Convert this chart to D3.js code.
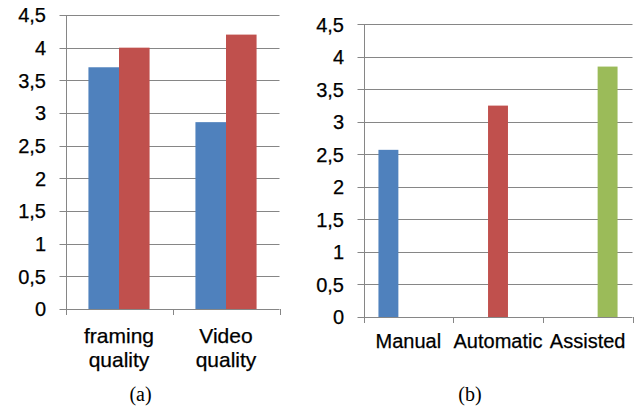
<!DOCTYPE html>
<html>
<head>
<meta charset="utf-8">
<script src="https://cdn.jsdelivr.net/npm/d3@7"></script>
<style>
  html, body { margin: 0; padding: 0; background: #fff; }
  svg { display: block; }
  text { font-family: "Liberation Sans", Arial, sans-serif; fill: #000; stroke: #000; stroke-width: 0.25px; }
  .caption { font-family: "Liberation Serif", "Times New Roman", serif; stroke: none; }
</style>
</head>
<body>
<svg id="chart" width="644" height="411"></svg>
<script>
// Panel (a): ratings per criterion, two conditions
const catsA = [["framing", "quality"], ["Video", "quality"]];
const seriesA = ["condition1", "condition2"];
const valuesA = [
  [3.7, 4.0],   // framing quality
  [2.86, 4.2]   // Video quality
];

// Panel (b): overall rating per mode
const catsB = ["Manual", "Automatic", "Assisted"];
const seriesB = ["Manual", "Automatic", "Assisted"];
const valuesB = [2.57, 3.25, 3.85];

const yTicks = [0, 0.5, 1, 1.5, 2, 2.5, 3, 3.5, 4, 4.5];
const colors = ["#4F81BD", "#C0504D", "#9BBB59"];
const gridColor = "#868686";
const fmt = v => String(v).replace(".", ",");

const svg = d3.select("#chart");

function drawPanel(cfg) {
  const g = svg.append("g");
  const y = d3.scaleLinear().domain([0, 4.5]).range([cfg.y0, cfg.y1]);
  const x = d3.scaleBand().domain(d3.range(cfg.nCats)).range([cfg.x0, cfg.x1]).padding(0);
  const bw = x.bandwidth();
  // Excel-style cluster: gap width 150% of a bar
  const barW = bw / (cfg.nSeries + 1.5);
  const inner = d3.scaleBand().domain(d3.range(cfg.nSeries))
    .range([barW * 0.75, bw - barW * 0.75]).padding(0);

  // horizontal gridlines with outward tick marks
  g.append("g").selectAll("line").data(yTicks).join("line")
    .attr("x1", cfg.x0 - 6).attr("x2", cfg.x1)
    .attr("y1", d => Math.round(y(d)) + 0.5).attr("y2", d => Math.round(y(d)) + 0.5)
    .attr("stroke", gridColor).attr("stroke-width", 1);

  // bars
  g.append("g").selectAll("rect").data(cfg.bars).join("rect")
    .attr("x", d => x(d.cat) + inner(d.s))
    .attr("width", inner.bandwidth())
    .attr("y", d => y(d.v))
    .attr("height", d => y(0) - y(d.v))
    .attr("fill", d => colors[d.s]);

  // vertical axis line
  g.append("line")
    .attr("x1", Math.round(cfg.x0) + 0.5).attr("x2", Math.round(cfg.x0) + 0.5)
    .attr("y1", y(4.5)).attr("y2", y(0) + 6)
    .attr("stroke", gridColor);

  // category boundary ticks under the baseline
  const bounds = d3.range(cfg.nCats + 1).map(i => i < cfg.nCats ? x(i) : cfg.x1);
  g.append("g").selectAll("line").data(bounds).join("line")
    .attr("x1", d => Math.round(d) + 0.5).attr("x2", d => Math.round(d) + 0.5)
    .attr("y1", y(0)).attr("y2", y(0) + 6)
    .attr("stroke", gridColor);

  // y tick labels
  g.append("g").selectAll("text").data(yTicks).join("text")
    .attr("x", cfg.labelX).attr("y", d => y(d))
    .attr("dy", "0.36em")
    .attr("text-anchor", "end")
    .style("font-size", "20px")
    .text(fmt);

  // category labels
  const cl = g.append("g").selectAll("text").data(cfg.cats).join("text")
    .attr("x", (d, i) => x(i) + bw / 2 + cfg.catDx)
    .attr("y", cfg.catY)
    .attr("text-anchor", "middle")
    .style("font-size", cfg.catSize);
  cl.each(function (d) {
    const lines = Array.isArray(d) ? d : [d];
    d3.select(this).selectAll("tspan").data(lines).join("tspan")
      .attr("x", d3.select(this).attr("x"))
      .attr("dy", (t, j) => j === 0 ? 0 : cfg.lineH)
      .text(t => t);
  });

  // panel caption
  svg.append("text").attr("class", "caption")
    .attr("x", cfg.capX).attr("y", 401)
    .attr("text-anchor", "middle")
    .style("font-size", "20px")
    .text(cfg.caption);
}

drawPanel({
  nCats: catsA.length, nSeries: seriesA.length,
  cats: catsA,
  bars: valuesA.flatMap((row, c) => row.map((v, s) => ({ cat: c, s, v }))),
  x0: 65.5, x1: 279.5, y0: 309, y1: 15,
  labelX: 46, catY: 343, catSize: "21px", lineH: 24, catDx: 0,
  capX: 140.5, caption: "(a)"
});

drawPanel({
  nCats: catsB.length, nSeries: seriesB.length,
  cats: catsB,
  bars: valuesB.map((v, c) => ({ cat: c, s: c, v })),
  x0: 363.5, x1: 632.5, y0: 317, y1: 24.3,
  labelX: 344, catY: 348, catSize: "20px", lineH: 24, catDx: 0,
  capX: 470, caption: "(b)"
});
</script>
</body>
</html>
